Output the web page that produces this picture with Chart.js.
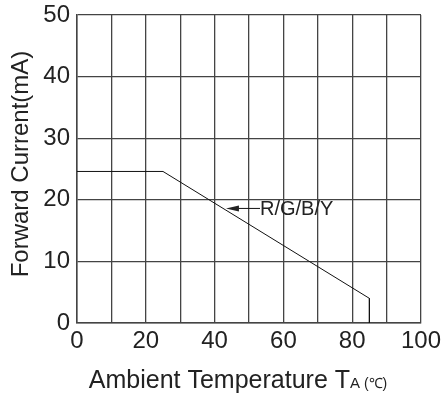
<!DOCTYPE html>
<html lang="en">
<head>
    <meta charset="UTF-8" />
    <title>Forward Current vs Ambient Temperature</title>
    <script src="https://cdn.jsdelivr.net/npm/chart.js"></script>
    <style>
        body { margin: 0; background: #fff; }
        #wrap { width: 446px; height: 396px; }
    </style>
</head>
<body>
    <div id="wrap"><canvas id="derating" width="446" height="396"></canvas></div>

    <script>
        // derating curve
        const tempC = [0, 25, 85, 85];
        const currentMA = [24.6, 24.6, 4, 0];

        const xTicks = [0, 20, 40, 60, 80, 100];
        const yTicks = [0, 10, 20, 30, 40, 50];

        // the "R/G/B/Y" callout, in data units
        const calloutText = 'R/G/B/Y';
        const arrowTip = [43.3, 18.6];
        const arrowTail = [53.2, 18.6];

        const FONT = "'Liberation Sans', Arial, sans-serif";
        const INK = '#222';

        const points = tempC.map((t, i) => ({ x: t, y: currentMA[i] }));

        const extras = {
            id: 'extras',
            afterDraw(chart) {
                const c = chart.ctx;
                const xs = chart.scales.x, ys = chart.scales.y;
                c.save();
                c.fillStyle = INK;
                c.strokeStyle = '#111';

                // callout arrow + label
                const tx = xs.getPixelForValue(arrowTip[0]);
                const ty = ys.getPixelForValue(arrowTip[1]);
                const ex = xs.getPixelForValue(arrowTail[0]);
                c.lineWidth = 1;
                c.beginPath();
                c.moveTo(tx + 10, ty);
                c.lineTo(ex, ty);
                c.stroke();
                c.beginPath();
                c.moveTo(tx, ty);
                c.lineTo(tx + 13, ty - 3);
                c.lineTo(tx + 13, ty + 3);
                c.closePath();
                c.fill();
                c.font = '20px ' + FONT;
                c.textBaseline = 'middle';
                c.textAlign = 'left';
                c.fillText(calloutText, ex, ty + 1);

                // y axis title
                c.save();
                c.translate(21, 164);
                c.rotate(-Math.PI / 2);
                c.font = '24px ' + FONT;
                c.textAlign = 'center';
                c.textBaseline = 'middle';
                c.fillText('Forward Current(mA)', 0, 0);
                c.restore();

                // x axis title with subscript A
                const main = 'Ambient Temperature T';
                const sub = 'A';
                const unit = ' (\u2103)';
                c.font = '25px ' + FONT;
                const w1 = c.measureText(main).width;
                c.font = '15px ' + FONT;
                const w2 = c.measureText(sub).width;
                c.font = '14px ' + FONT;
                const w3 = c.measureText(unit).width;
                const mid = (chart.chartArea.left + chart.chartArea.right) / 2 - 11;
                let x = mid - (w1 + w2 + w3) / 2;
                const base = 388;
                c.textBaseline = 'alphabetic';
                c.font = '25px ' + FONT;
                c.fillText(main, x, base);
                x += w1;
                c.font = '15px ' + FONT;
                c.fillText(sub, x, base);
                x += w2;
                c.font = '14px ' + FONT;
                c.fillText(unit, x, base);
                c.restore();
            }
        };

        new Chart(document.getElementById('derating'), {
            type: 'line',
            data: {
                datasets: [{
                    data: points,
                    borderColor: '#111',
                    borderWidth: 1,
                    pointRadius: 0,
                    tension: 0,
                    fill: false
                }]
            },
            options: {
                responsive: false,
                animation: false,
                layout: { padding: { top: 15, right: 25, left: 0, bottom: 0 } },
                plugins: { legend: { display: false }, tooltip: { enabled: false } },
                scales: {
                    x: {
                        type: 'linear',
                        min: 0, max: 100,
                        afterFit: s => { s.height = 73; s.paddingLeft = 0; s.paddingRight = 0; },
                        grid: { color: '#444', lineWidth: 1.3, drawTicks: false },
                        border: { color: '#444', width: 1.5 },
                        ticks: {
                            stepSize: 10,
                            padding: 4,
                            maxRotation: 0,
                            autoSkip: false,
                            color: INK,
                            font: { family: FONT, size: 24 },
                            callback: v => xTicks.includes(v) ? String(v) : ''
                        }
                    },
                    y: {
                        min: 0, max: 50,
                        afterFit: s => { s.width = 77; s.paddingTop = 0; s.paddingBottom = 0; },
                        grid: { color: '#444', lineWidth: 1.3, drawTicks: false },
                        border: { color: '#444', width: 1.5 },
                        ticks: {
                            stepSize: 10,
                            padding: 7,
                            color: INK,
                            font: { family: FONT, size: 24 },
                            callback: v => yTicks.includes(v) ? String(v) : ''
                        }
                    }
                }
            },
            plugins: [extras]
        });
    </script>
</body>
</html>
